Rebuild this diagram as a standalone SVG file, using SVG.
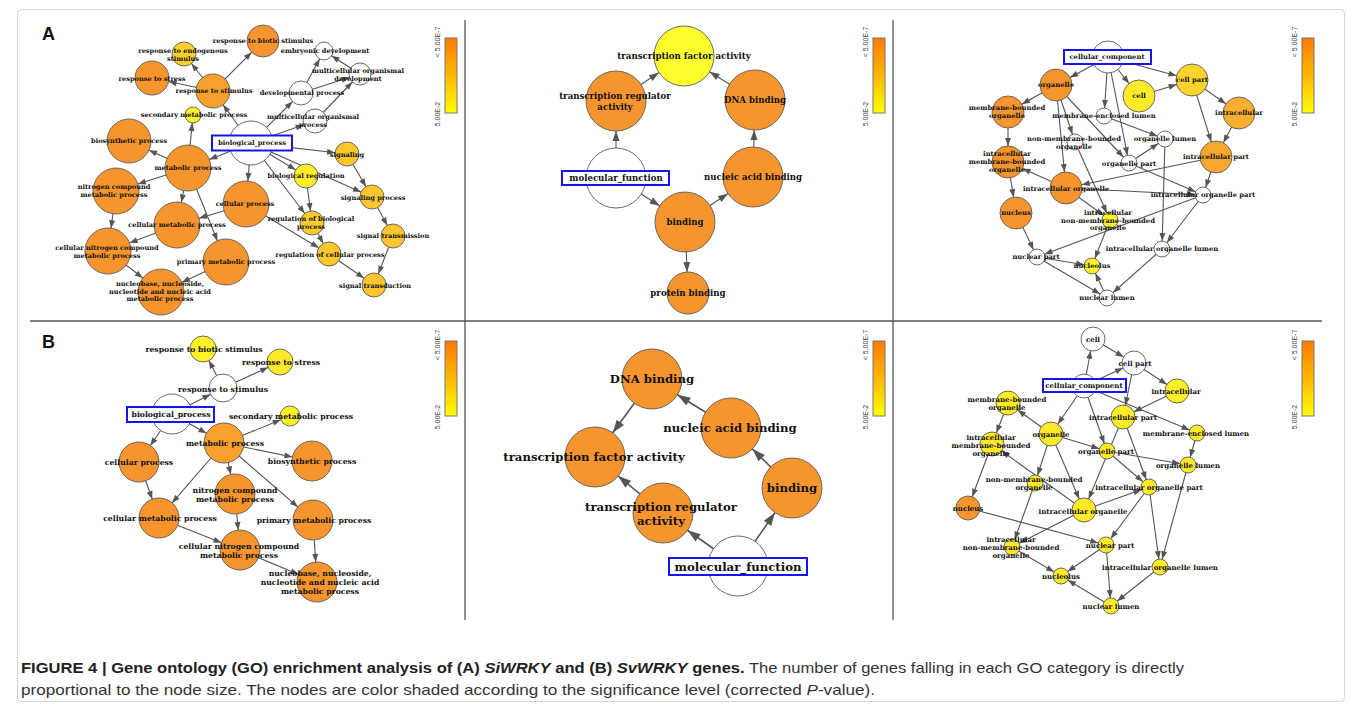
<svg xmlns="http://www.w3.org/2000/svg" width="1360" height="708" viewBox="0 0 1360 708">
<style>
.n{stroke:#5a5a5a;stroke-width:0.9}
.o{fill:#F6952E}
.w{fill:#ffffff}
.lbl{font-family:"DejaVu Serif","Liberation Serif",serif;font-weight:bold;fill:#111;text-anchor:middle;dominant-baseline:central}
.t1{font-size:6.6px}.t2{font-size:8.6px}.t3{font-size:6.8px}
.u1{font-size:7.7px}.u2{font-size:11.7px}.u3{font-size:7px}
.root{fill:#fff;stroke:#1515f0;stroke-width:2}
#connectors line{stroke:#555;stroke-width:1.1}
#connectors .b2 line{stroke-width:1.6}
marker path{fill:#555}
.e8{marker-end:url(#m8)}.e9{marker-end:url(#m9)}.e10{marker-end:url(#m10)}.e11{marker-end:url(#m11)}
.e12{marker-end:url(#m12)}.e13{marker-end:url(#m13)}.e14{marker-end:url(#m14)}.e16{marker-end:url(#m16)}
.e17{marker-end:url(#m17)}.e20{marker-end:url(#m20)}.e22{marker-end:url(#m22)}.e23{marker-end:url(#m23)}
.L21{marker-end:url(#L21)}.L30{marker-end:url(#L30)}.X30{marker-end:url(#X30)}
.cb{fill:url(#grad);stroke:#777;stroke-width:1}
.cbl{font-family:"Liberation Sans",Arial,sans-serif;font-size:7px;fill:#444;text-anchor:middle}
.div{stroke:#555;stroke-width:1.3}
.pl{font-family:"Liberation Sans",Arial,sans-serif;font-weight:bold;font-size:18px;fill:#111}
.cap{font-family:"Liberation Sans",Arial,sans-serif;font-size:15px;fill:#333}
</style>
<defs>
<linearGradient id="grad" x1="0" y1="0" x2="0" y2="1">
<stop offset="0" stop-color="#FF7A00"/><stop offset="0.5" stop-color="#FFB800"/><stop offset="1" stop-color="#FFFF00"/>
</linearGradient>
<marker id="m8" markerUnits="userSpaceOnUse" markerWidth="8" markerHeight="6" refX="16" refY="3" orient="auto" overflow="visible"><path d="M0,0L8,3L0,6z"/></marker>
<marker id="m9" markerUnits="userSpaceOnUse" markerWidth="8" markerHeight="6" refX="17" refY="3" orient="auto" overflow="visible"><path d="M0,0L8,3L0,6z"/></marker>
<marker id="m10" markerUnits="userSpaceOnUse" markerWidth="8" markerHeight="6" refX="18" refY="3" orient="auto" overflow="visible"><path d="M0,0L8,3L0,6z"/></marker>
<marker id="m11" markerUnits="userSpaceOnUse" markerWidth="8" markerHeight="6" refX="19" refY="3" orient="auto" overflow="visible"><path d="M0,0L8,3L0,6z"/></marker>
<marker id="m12" markerUnits="userSpaceOnUse" markerWidth="8" markerHeight="6" refX="20" refY="3" orient="auto" overflow="visible"><path d="M0,0L8,3L0,6z"/></marker>
<marker id="m13" markerUnits="userSpaceOnUse" markerWidth="8" markerHeight="6" refX="21" refY="3" orient="auto" overflow="visible"><path d="M0,0L8,3L0,6z"/></marker>
<marker id="m14" markerUnits="userSpaceOnUse" markerWidth="8" markerHeight="6" refX="22" refY="3" orient="auto" overflow="visible"><path d="M0,0L8,3L0,6z"/></marker>
<marker id="m16" markerUnits="userSpaceOnUse" markerWidth="8" markerHeight="6" refX="24" refY="3" orient="auto" overflow="visible"><path d="M0,0L8,3L0,6z"/></marker>
<marker id="m17" markerUnits="userSpaceOnUse" markerWidth="8" markerHeight="6" refX="25" refY="3" orient="auto" overflow="visible"><path d="M0,0L8,3L0,6z"/></marker>
<marker id="m20" markerUnits="userSpaceOnUse" markerWidth="8" markerHeight="6" refX="28" refY="3" orient="auto" overflow="visible"><path d="M0,0L8,3L0,6z"/></marker>
<marker id="m22" markerUnits="userSpaceOnUse" markerWidth="8" markerHeight="6" refX="30" refY="3" orient="auto" overflow="visible"><path d="M0,0L8,3L0,6z"/></marker>
<marker id="m23" markerUnits="userSpaceOnUse" markerWidth="8" markerHeight="6" refX="31" refY="3" orient="auto" overflow="visible"><path d="M0,0L8,3L0,6z"/></marker>
<marker id="L21" markerUnits="userSpaceOnUse" markerWidth="10" markerHeight="7" refX="31" refY="3.5" orient="auto" overflow="visible"><path d="M0,0L10,3.5L0,7z"/></marker>
<marker id="L30" markerUnits="userSpaceOnUse" markerWidth="10" markerHeight="7" refX="40" refY="3.5" orient="auto" overflow="visible"><path d="M0,0L10,3.5L0,7z"/></marker>
<marker id="X30" markerUnits="userSpaceOnUse" markerWidth="13" markerHeight="9" refX="43" refY="4.5" orient="auto" overflow="visible"><path d="M0,0L13,4.5L0,9z"/></marker>
</defs>
<rect x="0" y="0" width="1360" height="708" fill="#fff"/>
<rect x="17.5" y="9.5" width="1327" height="692" rx="4" fill="none" stroke="#d4d4d4"/>
<g id="dividers">
<line class="div" x1="465" y1="20" x2="465" y2="620"/>
<line class="div" x1="893" y1="20" x2="893" y2="620"/>
<line class="div" x1="30" y1="321" x2="1322" y2="321"/>
</g>
<text class="pl" x="42" y="40">A</text>
<text class="pl" x="42" y="348">B</text>
<g id="legends">
<rect class="cb" x="445" y="38" width="12" height="75"/>
<text class="cbl" transform="translate(440,42) rotate(-90)">&lt; 5.00E-7</text>
<text class="cbl" transform="translate(440,114) rotate(-90)">5.00E-2</text>
<rect class="cb" x="873" y="38" width="12" height="75"/>
<text class="cbl" transform="translate(868,42) rotate(-90)">&lt; 5.00E-7</text>
<text class="cbl" transform="translate(868,114) rotate(-90)">5.00E-2</text>
<rect class="cb" x="1302" y="38" width="12" height="75"/>
<text class="cbl" transform="translate(1297,42) rotate(-90)">&lt; 5.00E-7</text>
<text class="cbl" transform="translate(1297,114) rotate(-90)">5.00E-2</text>
<rect class="cb" x="445" y="341" width="12" height="75"/>
<text class="cbl" transform="translate(440,345) rotate(-90)">&lt; 5.00E-7</text>
<text class="cbl" transform="translate(440,417) rotate(-90)">5.00E-2</text>
<rect class="cb" x="873" y="341" width="12" height="75"/>
<text class="cbl" transform="translate(868,345) rotate(-90)">&lt; 5.00E-7</text>
<text class="cbl" transform="translate(868,417) rotate(-90)">5.00E-2</text>
<rect class="cb" x="1302" y="341" width="12" height="75"/>
<text class="cbl" transform="translate(1297,345) rotate(-90)">&lt; 5.00E-7</text>
<text class="cbl" transform="translate(1297,417) rotate(-90)">5.00E-2</text>
</g>
<g id="connectors">
<g class="a1">
<line class="e17" x1="251" y1="143" x2="213" y2="91"/>
<line class="e16" x1="213" y1="91" x2="263" y2="41"/>
<line class="e12" x1="213" y1="91" x2="184" y2="54"/>
<line class="e17" x1="213" y1="91" x2="152" y2="78"/>
<line class="e23" x1="251" y1="143" x2="188" y2="168"/>
<line class="e8" x1="188" y1="168" x2="193" y2="115"/>
<line class="e22" x1="188" y1="168" x2="129" y2="141"/>
<line class="e23" x1="188" y1="168" x2="116" y2="191"/>
<line class="e23" x1="188" y1="168" x2="177" y2="225"/>
<line class="e23" x1="188" y1="168" x2="226" y2="262"/>
<line class="e23" x1="251" y1="143" x2="246" y2="204"/>
<line class="e23" x1="246" y1="204" x2="177" y2="225"/>
<line class="e23" x1="116" y1="191" x2="108" y2="251"/>
<line class="e23" x1="177" y1="225" x2="108" y2="251"/>
<line class="e23" x1="108" y1="251" x2="161" y2="292"/>
<line class="e23" x1="226" y1="262" x2="161" y2="292"/>
<line class="e12" x1="251" y1="143" x2="301" y2="93"/>
<line class="e12" x1="251" y1="143" x2="315" y2="121"/>
<line class="e9" x1="301" y1="93" x2="324" y2="51"/>
<line class="e11" x1="301" y1="93" x2="360" y2="74"/>
<line class="e11" x1="315" y1="121" x2="360" y2="74"/>
<line class="e9" x1="360" y1="74" x2="324" y2="51"/>
<line class="e12" x1="251" y1="143" x2="347" y2="154"/>
<line class="e12" x1="251" y1="143" x2="306" y2="176"/>
<line class="e12" x1="251" y1="143" x2="312" y2="223"/>
<line class="e12" x1="251" y1="143" x2="372" y2="197"/>
<line class="e12" x1="347" y1="154" x2="372" y2="197"/>
<line class="e12" x1="372" y1="197" x2="393" y2="236"/>
<line class="e12" x1="393" y1="236" x2="374" y2="285"/>
<line class="e12" x1="306" y1="176" x2="312" y2="223"/>
<line class="e12" x1="312" y1="223" x2="329" y2="254"/>
<line class="e12" x1="246" y1="204" x2="329" y2="254"/>
<line class="e12" x1="329" y1="254" x2="374" y2="285"/>
</g>
<g class="a2">
<line class="L30" x1="616" y1="178" x2="616" y2="101"/>
<line class="L30" x1="616" y1="101" x2="684" y2="56"/>
<line class="L30" x1="755" y1="100" x2="684" y2="56"/>
<line class="L30" x1="753" y1="177" x2="755" y2="100"/>
<line class="L30" x1="685" y1="222" x2="753" y2="177"/>
<line class="L30" x1="616" y1="178" x2="685" y2="222"/>
<line class="L21" x1="685" y1="222" x2="688" y2="293"/>
</g>
<g class="a3">
<line class="e16" x1="1108" y1="57" x2="1056" y2="85"/>
<line class="e16" x1="1108" y1="57" x2="1139" y2="96"/>
<line class="e16" x1="1108" y1="57" x2="1192" y2="80"/>
<line class="e8" x1="1108" y1="57" x2="1104" y2="116"/>
<line class="e8" x1="1108" y1="57" x2="1129" y2="163"/>
<line class="e16" x1="1139" y1="96" x2="1192" y2="80"/>
<line class="e16" x1="1192" y1="80" x2="1239" y2="113"/>
<line class="e16" x1="1192" y1="80" x2="1216" y2="157"/>
<line class="e16" x1="1239" y1="113" x2="1216" y2="157"/>
<line class="e16" x1="1056" y1="85" x2="1008" y2="112"/>
<line class="e8" x1="1056" y1="85" x2="1075" y2="142"/>
<line class="e16" x1="1056" y1="85" x2="1066" y2="188"/>
<line class="e8" x1="1056" y1="85" x2="1129" y2="163"/>
<line class="e16" x1="1008" y1="112" x2="1008" y2="162"/>
<line class="e16" x1="1066" y1="188" x2="1008" y2="162"/>
<line class="e16" x1="1216" y1="157" x2="1066" y2="188"/>
<line class="e16" x1="1008" y1="162" x2="1016" y2="213"/>
<line class="e8" x1="1066" y1="188" x2="1110" y2="220"/>
<line class="e8" x1="1075" y1="142" x2="1110" y2="220"/>
<line class="e8" x1="1104" y1="116" x2="1165" y2="139"/>
<line class="e8" x1="1129" y1="163" x2="1165" y2="139"/>
<line class="e8" x1="1129" y1="163" x2="1203" y2="195"/>
<line class="e8" x1="1216" y1="157" x2="1203" y2="195"/>
<line class="e8" x1="1066" y1="188" x2="1203" y2="195"/>
<line class="e8" x1="1165" y1="139" x2="1162" y2="249"/>
<line class="e8" x1="1203" y1="195" x2="1162" y2="249"/>
<line class="e8" x1="1203" y1="195" x2="1037" y2="257"/>
<line class="e8" x1="1016" y1="213" x2="1037" y2="257"/>
<line class="e8" x1="1110" y1="220" x2="1092" y2="266"/>
<line class="e8" x1="1037" y1="257" x2="1092" y2="266"/>
<line class="e8" x1="1037" y1="257" x2="1107" y2="298"/>
<line class="e8" x1="1107" y1="298" x2="1092" y2="266"/>
<line class="e8" x1="1162" y1="249" x2="1107" y2="298"/>
</g>
<g class="b1">
<line class="e14" x1="172" y1="414" x2="223" y2="388"/>
<line class="e13" x1="223" y1="388" x2="203" y2="349"/>
<line class="e13" x1="223" y1="388" x2="280" y2="362"/>
<line class="e20" x1="172" y1="414" x2="224" y2="443"/>
<line class="e20" x1="172" y1="414" x2="139" y2="462"/>
<line class="e10" x1="224" y1="443" x2="290" y2="416"/>
<line class="e20" x1="224" y1="443" x2="312" y2="461"/>
<line class="e20" x1="224" y1="443" x2="235" y2="494"/>
<line class="e20" x1="224" y1="443" x2="159" y2="518"/>
<line class="e20" x1="224" y1="443" x2="313" y2="520"/>
<line class="e20" x1="139" y1="462" x2="159" y2="518"/>
<line class="e20" x1="235" y1="494" x2="240" y2="550"/>
<line class="e20" x1="159" y1="518" x2="240" y2="550"/>
<line class="e20" x1="240" y1="550" x2="317" y2="582"/>
<line class="e20" x1="313" y1="520" x2="317" y2="582"/>
</g>
<g class="b2">
<line class="X30" x1="738" y1="566" x2="663" y2="513"/>
<line class="X30" x1="738" y1="566" x2="792" y2="488"/>
<line class="X30" x1="792" y1="488" x2="731" y2="428"/>
<line class="X30" x1="731" y1="428" x2="652" y2="379"/>
<line class="X30" x1="652" y1="379" x2="595" y2="457"/>
<line class="X30" x1="663" y1="513" x2="595" y2="457"/>
</g>
<g class="b3">
<line class="e12" x1="1084" y1="386" x2="1093" y2="339"/>
<line class="e12" x1="1084" y1="386" x2="1134" y2="363"/>
<line class="e12" x1="1093" y1="339" x2="1134" y2="363"/>
<line class="e12" x1="1134" y1="363" x2="1177" y2="391"/>
<line class="e12" x1="1134" y1="363" x2="1123" y2="417"/>
<line class="e12" x1="1177" y1="391" x2="1123" y2="417"/>
<line class="e12" x1="1084" y1="386" x2="1051" y2="434"/>
<line class="e8" x1="1084" y1="386" x2="1107" y2="451"/>
<line class="e8" x1="1084" y1="386" x2="1197" y2="433"/>
<line class="e12" x1="1051" y1="434" x2="1008" y2="403"/>
<line class="e8" x1="1051" y1="434" x2="1107" y2="451"/>
<line class="e8" x1="1051" y1="434" x2="1035" y2="483"/>
<line class="e12" x1="1051" y1="434" x2="1084" y2="510"/>
<line class="e12" x1="1008" y1="403" x2="992" y2="444"/>
<line class="e12" x1="1084" y1="510" x2="992" y2="444"/>
<line class="e12" x1="992" y1="444" x2="968" y2="508"/>
<line class="e12" x1="1123" y1="417" x2="1084" y2="510"/>
<line class="e8" x1="1123" y1="417" x2="1149" y2="487"/>
<line class="e8" x1="1107" y1="451" x2="1149" y2="487"/>
<line class="e8" x1="1107" y1="451" x2="1188" y2="465"/>
<line class="e8" x1="1197" y1="433" x2="1188" y2="465"/>
<line class="e8" x1="1084" y1="510" x2="1149" y2="487"/>
<line class="e8" x1="1084" y1="510" x2="1012" y2="547"/>
<line class="e8" x1="1035" y1="483" x2="1012" y2="547"/>
<line class="e8" x1="968" y1="508" x2="1106" y2="545"/>
<line class="e8" x1="1149" y1="487" x2="1106" y2="545"/>
<line class="e8" x1="1149" y1="487" x2="1160" y2="567"/>
<line class="e8" x1="1188" y1="465" x2="1160" y2="567"/>
<line class="e8" x1="1106" y1="545" x2="1061" y2="576"/>
<line class="e8" x1="1106" y1="545" x2="1111" y2="606"/>
<line class="e8" x1="1012" y1="547" x2="1061" y2="576"/>
<line class="e8" x1="1111" y1="606" x2="1061" y2="576"/>
<line class="e8" x1="1160" y1="567" x2="1111" y2="606"/>
</g>
</g>
<g id="panelA1">
<g id="a1-bp"><circle class="n w" cx="251" cy="143" r="22"/><rect class="root" x="212" y="135.5" width="80" height="15"/><text class="lbl t1" x="252" y="143">biological_process</text></g>
<g id="a1-rs"><circle class="n" fill="#F8A02B" cx="213" cy="91" r="17"/><text class="lbl t1" x="214" y="91">response to stimulus</text></g>
<g id="a1-rbs"><circle class="n o" cx="263" cy="41" r="16"/><text class="lbl t1" x="263" y="41">response to biotic stimulus</text></g>
<g id="a1-res"><circle class="n" fill="#FCD02C" cx="184" cy="54" r="12"/><text class="lbl t1" x="183" y="51">response to endogenous<tspan x="183" y="59">stimulus</tspan></text></g>
<g id="a1-rst"><circle class="n o" cx="152" cy="78" r="17"/><text class="lbl t1" x="152" y="79">response to stress</text></g>
<g id="a1-smp"><circle class="n" fill="#FFF22A" cx="193" cy="115" r="8"/><text class="lbl t1" x="194" y="115">secondary metabolic process</text></g>
<g id="a1-bsp"><circle class="n o" cx="129" cy="141" r="22"/><text class="lbl t1" x="129" y="141">biosynthetic process</text></g>
<g id="a1-mp"><circle class="n o" cx="188" cy="168" r="23"/><text class="lbl t1" x="188" y="168">metabolic process</text></g>
<g id="a1-ncmp"><circle class="n o" cx="116" cy="191" r="23"/><text class="lbl t1" x="114" y="187">nitrogen compound<tspan x="114" y="195">metabolic process</tspan></text></g>
<g id="a1-cp"><circle class="n o" cx="246" cy="204" r="23"/><text class="lbl t1" x="245" y="204">cellular process</text></g>
<g id="a1-cmp"><circle class="n o" cx="177" cy="225" r="23"/><text class="lbl t1" x="177" y="225">cellular metabolic process</text></g>
<g id="a1-cncmp"><circle class="n o" cx="108" cy="251" r="23"/><text class="lbl t1" x="107" y="248">cellular nitrogen compound<tspan x="107" y="256">metabolic process</tspan></text></g>
<g id="a1-pmp"><circle class="n o" cx="226" cy="262" r="23"/><text class="lbl t1" x="226" y="262">primary metabolic process</text></g>
<g id="a1-nb"><circle class="n o" cx="161" cy="292" r="23"/><text class="lbl t1" x="160" y="284">nucleobase, nucleoside,<tspan x="160" y="291.5">nucleotide and nucleic acid</tspan><tspan x="160" y="299">metabolic process</tspan></text></g>
<g id="a1-ed"><circle class="n w" cx="324" cy="51" r="9"/><text class="lbl t1" x="325" y="51">embryonic development</text></g>
<g id="a1-mod"><circle class="n w" cx="360" cy="74" r="11"/><text class="lbl t1" x="358" y="71">multicellular organismal<tspan x="358" y="79">development</tspan></text></g>
<g id="a1-dp"><circle class="n w" cx="301" cy="93" r="12"/><text class="lbl t1" x="302" y="93">developmental process</text></g>
<g id="a1-mop"><circle class="n w" cx="315" cy="121" r="12"/><text class="lbl t1" x="313" y="117">multicellular organismal<tspan x="313" y="125">process</tspan></text></g>
<g id="a1-sig"><circle class="n" fill="#FBC62E" cx="347" cy="154" r="12"/><text class="lbl t1" x="347" y="155">signaling</text></g>
<g id="a1-br"><circle class="n" fill="#FFED2A" cx="306" cy="176" r="12"/><text class="lbl t1" x="306" y="176">biological regulation</text></g>
<g id="a1-sp"><circle class="n" fill="#FBC62E" cx="372" cy="197" r="12"/><text class="lbl t1" x="373" y="198">signaling process</text></g>
<g id="a1-rbp"><circle class="n" fill="#FCCB2D" cx="312" cy="223" r="12"/><text class="lbl t1" x="311" y="219">regulation of biological<tspan x="311" y="227">process</tspan></text></g>
<g id="a1-rcp"><circle class="n" fill="#FBC62E" cx="329" cy="254" r="12"/><text class="lbl t1" x="330" y="255">regulation of cellular process</text></g>
<g id="a1-st"><circle class="n" fill="#FBC62E" cx="393" cy="236" r="12"/><text class="lbl t1" x="393" y="236">signal transmission</text></g>
<g id="a1-std"><circle class="n" fill="#FBC62E" cx="374" cy="285" r="12"/><text class="lbl t1" x="375" y="286">signal transduction</text></g>
</g>
<g id="panelA2">
<g id="a2-tfa"><circle class="n" fill="#FFFF30" cx="684" cy="56" r="30"/><text class="lbl t2" x="684" y="56">transcription factor activity</text></g>
<g id="a2-tra"><circle class="n o" cx="616" cy="101" r="30"/><text class="lbl t2" x="615" y="96">transcription regulator<tspan x="615" y="107">activity</tspan></text></g>
<g id="a2-dna"><circle class="n o" cx="755" cy="100" r="30"/><text class="lbl t2" x="755" y="100">DNA binding</text></g>
<g id="a2-mf"><circle class="n w" cx="616" cy="178" r="30"/><rect class="root" x="562" y="171" width="107" height="14"/><text class="lbl t2" x="616" y="178">molecular_function</text></g>
<g id="a2-nab"><circle class="n o" cx="753" cy="177" r="30"/><text class="lbl t2" x="753" y="177">nucleic acid binding</text></g>
<g id="a2-bind"><circle class="n o" cx="685" cy="222" r="30"/><text class="lbl t2" x="685" y="222">binding</text></g>
<g id="a2-pb"><circle class="n o" cx="688" cy="293" r="21"/><text class="lbl t2" x="688" y="293">protein binding</text></g>
</g>
<g id="panelA3">
<g id="a3-cc"><circle class="n w" cx="1108" cy="57" r="16"/><rect class="root" x="1064" y="50" width="87" height="14"/><text class="lbl t3" x="1107" y="57">cellular_component</text></g>
<g id="a3-org"><circle class="n o" cx="1056" cy="85" r="16"/><text class="lbl t3" x="1056" y="85">organelle</text></g>
<g id="a3-cell"><circle class="n" fill="#FFEA2A" cx="1139" cy="96" r="16"/><text class="lbl t3" x="1139" y="96">cell</text></g>
<g id="a3-cpart"><circle class="n" fill="#FDD42E" cx="1192" cy="80" r="16"/><text class="lbl t3" x="1192" y="80">cell part</text></g>
<g id="a3-ic"><circle class="n" fill="#F8AE30" cx="1239" cy="113" r="16"/><text class="lbl t3" x="1239" y="113">intracellular</text></g>
<g id="a3-icp"><circle class="n" fill="#F8A72E" cx="1216" cy="157" r="16"/><text class="lbl t3" x="1216" y="157">intracellular part</text></g>
<g id="a3-mbo"><circle class="n o" cx="1008" cy="112" r="16"/><text class="lbl t3" x="1007" y="108">membrane-bounded<tspan x="1007" y="116">organelle</tspan></text></g>
<g id="a3-mel"><circle class="n w" cx="1104" cy="116" r="8"/><text class="lbl t3" x="1104" y="116">membrane-enclosed lumen</text></g>
<g id="a3-nmbo"><circle class="n w" cx="1075" cy="142" r="8"/><text class="lbl t3" x="1074" y="139">non-membrane-bounded<tspan x="1074" y="147">organelle</tspan></text></g>
<g id="a3-ol"><circle class="n w" cx="1165" cy="139" r="8"/><text class="lbl t3" x="1165" y="139">organelle lumen</text></g>
<g id="a3-op"><circle class="n w" cx="1129" cy="163" r="8"/><text class="lbl t3" x="1129" y="164">organelle part</text></g>
<g id="a3-imbo"><circle class="n o" cx="1008" cy="162" r="16"/><text class="lbl t3" x="1007" y="154">intracellular<tspan x="1007" y="162">membrane-bounded</tspan><tspan x="1007" y="170">organelle</tspan></text></g>
<g id="a3-io"><circle class="n o" cx="1066" cy="188" r="16"/><text class="lbl t3" x="1066" y="189">intracellular organelle</text></g>
<g id="a3-iop"><circle class="n w" cx="1203" cy="195" r="8"/><text class="lbl t3" x="1203" y="195">intracellular organelle part</text></g>
<g id="a3-nuc"><circle class="n o" cx="1016" cy="213" r="16"/><text class="lbl t3" x="1016" y="213">nucleus</text></g>
<g id="a3-inmbo"><circle class="n" fill="#FFF22A" cx="1110" cy="220" r="8"/><text class="lbl t3" x="1108" y="213">intracellular<tspan x="1108" y="220.5">non-membrane-bounded</tspan><tspan x="1108" y="228">organelle</tspan></text></g>
<g id="a3-iol"><circle class="n w" cx="1162" cy="249" r="8"/><text class="lbl t3" x="1162" y="249">intracellular organelle lumen</text></g>
<g id="a3-np"><circle class="n w" cx="1037" cy="257" r="8"/><text class="lbl t3" x="1036" y="257">nuclear part</text></g>
<g id="a3-nucleolus"><circle class="n" fill="#FFF22A" cx="1092" cy="266" r="8"/><text class="lbl t3" x="1092" y="266">nucleolus</text></g>
<g id="a3-nl"><circle class="n w" cx="1107" cy="298" r="8"/><text class="lbl t3" x="1107" y="298">nuclear lumen</text></g>
</g>
<g id="panelB1">
<g id="b1-rbs"><circle class="n" fill="#FFF22A" cx="203" cy="349" r="13"/><text class="lbl u1" x="204" y="349">response to biotic stimulus</text></g>
<g id="b1-rst"><circle class="n" fill="#FFE92A" cx="280" cy="362" r="13"/><text class="lbl u1" x="281" y="362">response to stress</text></g>
<g id="b1-rs"><circle class="n w" cx="223" cy="388" r="14"/><text class="lbl u1" x="223" y="389">response to stimulus</text></g>
<g id="b1-bp"><circle class="n w" cx="172" cy="414" r="20"/><rect class="root" x="127" y="407" width="87" height="15"/><text class="lbl u1" x="171" y="414.5">biological_process</text></g>
<g id="b1-smp"><circle class="n" fill="#FFF02A" cx="290" cy="416" r="10"/><text class="lbl u1" x="291" y="416">secondary metabolic process</text></g>
<g id="b1-mp"><circle class="n" fill="#F8A02B" cx="224" cy="443" r="20"/><text class="lbl u1" x="225" y="443">metabolic process</text></g>
<g id="b1-cp"><circle class="n o" cx="139" cy="462" r="20"/><text class="lbl u1" x="139" y="462">cellular process</text></g>
<g id="b1-bsp"><circle class="n o" cx="312" cy="461" r="20"/><text class="lbl u1" x="312" y="461">biosynthetic process</text></g>
<g id="b1-ncmp"><circle class="n o" cx="235" cy="494" r="20"/><text class="lbl u1" x="235" y="490">nitrogen compound<tspan x="235" y="499">metabolic process</tspan></text></g>
<g id="b1-cmp"><circle class="n o" cx="159" cy="518" r="20"/><text class="lbl u1" x="160" y="518">cellular metabolic process</text></g>
<g id="b1-pmp"><circle class="n o" cx="313" cy="520" r="20"/><text class="lbl u1" x="314" y="520">primary metabolic process</text></g>
<g id="b1-cncmp"><circle class="n o" cx="240" cy="550" r="20"/><text class="lbl u1" x="239" y="546">cellular nitrogen compound<tspan x="239" y="555">metabolic process</tspan></text></g>
<g id="b1-nb"><circle class="n o" cx="317" cy="582" r="20"/><text class="lbl u1" x="320" y="573">nucleobase, nucleoside,<tspan x="320" y="582">nucleotide and nucleic acid</tspan><tspan x="320" y="591">metabolic process</tspan></text></g>
</g>
<g id="panelB2">
<g id="b2-dna"><circle class="n o" cx="652" cy="379" r="30"/><text class="lbl u2" x="652" y="379">DNA binding</text></g>
<g id="b2-nab"><circle class="n o" cx="731" cy="428" r="30"/><text class="lbl u2" x="730" y="428">nucleic acid binding</text></g>
<g id="b2-tfa"><circle class="n o" cx="595" cy="457" r="30"/><text class="lbl u2" x="594" y="457">transcription factor activity</text></g>
<g id="b2-bind"><circle class="n o" cx="792" cy="488" r="30"/><text class="lbl u2" x="792" y="488">binding</text></g>
<g id="b2-tra"><circle class="n o" cx="663" cy="513" r="30"/><text class="lbl u2" x="661" y="507">transcription regulator<tspan x="661" y="521">activity</tspan></text></g>
<g id="b2-mf"><circle class="n w" cx="738" cy="566" r="30"/><rect class="root" x="669" y="558" width="138" height="17"/><text class="lbl u2" x="738" y="566.5">molecular_function</text></g>
</g>
<g id="panelB3">
<g id="b3-cell"><circle class="n w" cx="1093" cy="339" r="12"/><text class="lbl u3" x="1093" y="339">cell</text></g>
<g id="b3-cpart"><circle class="n w" cx="1134" cy="363" r="12"/><text class="lbl u3" x="1135" y="363">cell part</text></g>
<g id="b3-cc"><circle class="n w" cx="1084" cy="386" r="12"/><rect class="root" x="1043" y="379" width="83" height="13"/><text class="lbl u3" x="1084" y="385.5">cellular_component</text></g>
<g id="b3-ic"><circle class="n" fill="#FFEF2A" cx="1177" cy="391" r="12"/><text class="lbl u3" x="1176" y="391">intracellular</text></g>
<g id="b3-icp"><circle class="n" fill="#FFEC2A" cx="1123" cy="417" r="12"/><text class="lbl u3" x="1123" y="417">intracellular part</text></g>
<g id="b3-mbo"><circle class="n" fill="#FFEA2A" cx="1008" cy="403" r="12"/><text class="lbl u3" x="1007" y="399">membrane-bounded<tspan x="1007" y="407">organelle</tspan></text></g>
<g id="b3-org"><circle class="n" fill="#FFEA2A" cx="1051" cy="434" r="12"/><text class="lbl u3" x="1051" y="434">organelle</text></g>
<g id="b3-mel"><circle class="n" fill="#FFEA2A" cx="1197" cy="433" r="8"/><text class="lbl u3" x="1196" y="433">membrane-enclosed lumen</text></g>
<g id="b3-op"><circle class="n" fill="#FFEA2A" cx="1107" cy="451" r="8"/><text class="lbl u3" x="1106" y="451">organelle part</text></g>
<g id="b3-imbo"><circle class="n" fill="#FFEA2A" cx="992" cy="444" r="12"/><text class="lbl u3" x="991" y="437">intracellular<tspan x="991" y="445">membrane-bounded</tspan><tspan x="991" y="453">organelle</tspan></text></g>
<g id="b3-ol"><circle class="n" fill="#FFEA2A" cx="1188" cy="465" r="8"/><text class="lbl u3" x="1188" y="465">organelle lumen</text></g>
<g id="b3-nmbo"><circle class="n" fill="#FFEA2A" cx="1035" cy="483" r="8"/><text class="lbl u3" x="1034" y="479">non-membrane-bounded<tspan x="1034" y="487">organelle</tspan></text></g>
<g id="b3-iop"><circle class="n" fill="#FFEA2A" cx="1149" cy="487" r="8"/><text class="lbl u3" x="1149" y="487">intracellular organelle part</text></g>
<g id="b3-nuc"><circle class="n o" cx="968" cy="508" r="12"/><text class="lbl u3" x="968" y="508">nucleus</text></g>
<g id="b3-io"><circle class="n" fill="#FFEA2A" cx="1084" cy="510" r="12"/><text class="lbl u3" x="1083" y="511">intracellular organelle</text></g>
<g id="b3-inmbo"><circle class="n" fill="#FFEA2A" cx="1012" cy="547" r="8"/><text class="lbl u3" x="1011" y="539">intracellular<tspan x="1011" y="547">non-membrane-bounded</tspan><tspan x="1011" y="555">organelle</tspan></text></g>
<g id="b3-np"><circle class="n" fill="#FFEA2A" cx="1106" cy="545" r="8"/><text class="lbl u3" x="1110" y="545">nuclear part</text></g>
<g id="b3-iol"><circle class="n" fill="#FFEA2A" cx="1160" cy="567" r="8"/><text class="lbl u3" x="1160" y="567">intracellular organelle lumen</text></g>
<g id="b3-nucleolus"><circle class="n" fill="#FFEA2A" cx="1061" cy="576" r="8"/><text class="lbl u3" x="1061" y="576">nucleolus</text></g>
<g id="b3-nl"><circle class="n" fill="#FFEA2A" cx="1111" cy="606" r="8"/><text class="lbl u3" x="1111" y="606">nuclear lumen</text></g>
</g>
<g id="caption">
<text class="cap" x="21" y="673" textLength="1163" lengthAdjust="spacingAndGlyphs"><tspan font-weight="bold" fill="#222">FIGURE 4 | Gene ontology (GO) enrichment analysis of (A) </tspan><tspan font-weight="bold" font-style="italic" fill="#222">SiWRKY</tspan><tspan font-weight="bold" fill="#222"> and (B) </tspan><tspan font-weight="bold" font-style="italic" fill="#222">SvWRKY</tspan><tspan font-weight="bold" fill="#222"> genes.</tspan> The number of genes falling in each GO category is directly</text>
<text class="cap" x="21" y="695" textLength="854" lengthAdjust="spacingAndGlyphs">proportional to the node size. The nodes are color shaded according to the significance level (corrected <tspan font-style="italic">P</tspan>-value).</text>
</g>
</svg>
